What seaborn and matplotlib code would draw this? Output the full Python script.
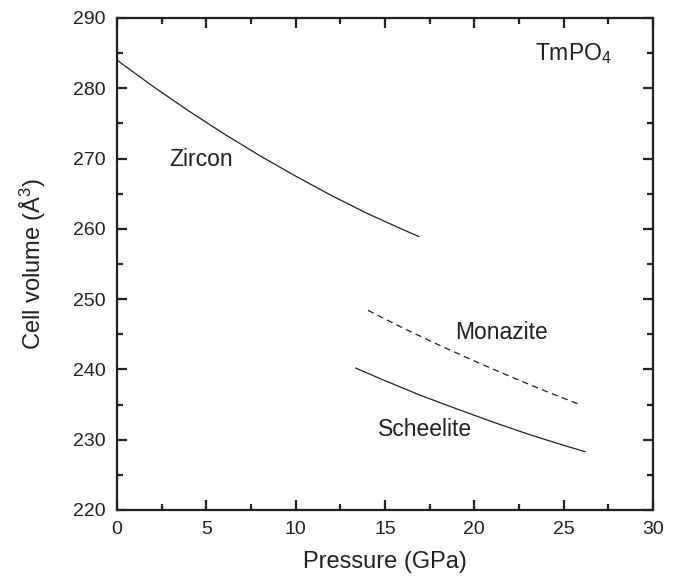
import matplotlib
matplotlib.use("Agg")
import matplotlib.pyplot as plt
import seaborn as sns
import pandas as pd
from matplotlib.ticker import MultipleLocator

sns.set_theme(style="ticks")
plt.rcParams['font.family'] = ['Liberation Sans', 'DejaVu Sans']
plt.rcParams['mathtext.fontset'] = 'custom'
plt.rcParams['mathtext.rm'] = 'Liberation Sans'
plt.rcParams['mathtext.it'] = 'Liberation Sans:italic'

# Data
zircon_p = [0, 2, 4, 6, 8, 10, 12, 14, 16, 16.9]
zircon_v = [284.0, 280.3, 276.8, 273.5, 270.4, 267.5, 264.75, 262.2, 259.9, 258.9]

monazite_p = [14.05, 16, 18, 20, 22, 24, 25.9]
monazite_v = [248.4, 245.9, 243.5, 241.2, 239.0, 236.9, 235.0]

scheelite_p = [13.35, 15, 17, 19, 21, 23, 25, 26.2]
scheelite_v = [240.2, 238.4, 236.3, 234.4, 232.55, 230.8, 229.2, 228.3]

ink = "#231f20"

fig = plt.figure(figsize=(6.81, 5.78), dpi=100)
ax = fig.add_axes([117/681, 1 - 510/578, (653 - 117)/681, (510 - 18)/578])

sns.lineplot(x=zircon_p, y=zircon_v, ax=ax, color=ink, lw=0.9, sort=False)
sns.lineplot(x=scheelite_p, y=scheelite_v, ax=ax, color=ink, lw=0.9, sort=False)
sns.lineplot(x=monazite_p, y=monazite_v, ax=ax, color=ink, lw=0.9, sort=False,
             linestyle=(0, (5, 3.5)))

ax.set_xlim(0, 30)
ax.set_ylim(220, 290)
ax.xaxis.set_major_locator(MultipleLocator(5))
ax.xaxis.set_minor_locator(MultipleLocator(2.5))
ax.yaxis.set_major_locator(MultipleLocator(10))
ax.yaxis.set_minor_locator(MultipleLocator(5))

for s in ax.spines.values():
    s.set_linewidth(1.6)
    s.set_color(ink)
    s.set_visible(True)

ax.tick_params(which='both', direction='in', top=True, right=True,
               color=ink, width=1.6)
ax.tick_params(which='major', length=7.5, labelsize=14, labelcolor=ink, pad=8)
ax.tick_params(which='minor', length=4)

ax.set_xlabel("Pressure (GPa)", fontsize=17, color=ink, labelpad=9)
ax.set_ylabel("Cell volume (Å$^3$)", fontsize=17, color=ink, labelpad=18)

ax.text(2.9, 269.8, "Zircon", fontsize=16.5, color=ink, va='center', ha='left')
ax.text(18.9, 245.3, "Monazite", fontsize=16.5, color=ink, va='center', ha='left')
ax.text(14.6, 231.5, "Scheelite", fontsize=16.5, color=ink, va='center', ha='left')
ax.text(23.4, 285.0, "TmPO$_4$", fontsize=16.5, color=ink, va='center', ha='left')

fig.savefig("out.png", dpi=100)
